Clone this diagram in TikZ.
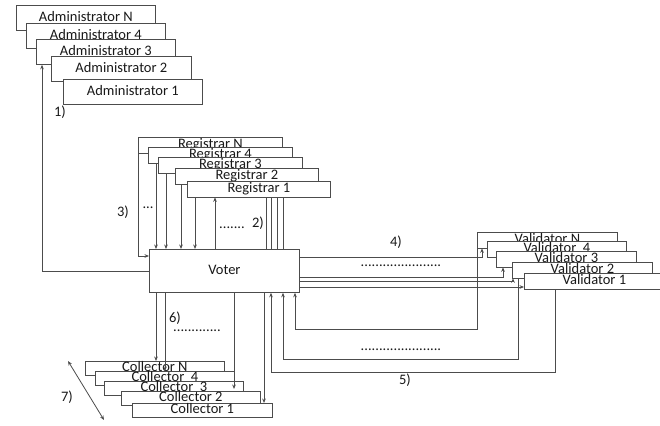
\documentclass[tikz,border=0pt]{standalone}
\usepackage{fontspec}
\setmainfont{Carlito}
\usetikzlibrary{arrows.meta,calc}
\begin{document}
\begin{tikzpicture}[x=1pt,y=-1pt,line width=0.8pt,
  boxstyle/.style={draw=black!70, fill=white, inner sep=0pt, anchor=north west,
    text=black!90, font=\fontsize{14.5}{16}\selectfont, text height=10pt, text depth=3pt},
  abox/.style={boxstyle, minimum width=139pt, minimum height=25pt},
  rbox/.style={boxstyle, minimum width=144pt, minimum height=15.5pt},
  vbox/.style={boxstyle, minimum width=140pt, minimum height=15.5pt},
  cbox/.style={boxstyle, minimum width=139pt, minimum height=13.5pt},
  tip/.tip={Stealth[length=4.5pt,width=3.6pt]},
  arr/.style={draw=black!70, -tip},
  ln/.style={draw=black!70},
  lbl/.style={font=\fontsize{14.5}{16}\selectfont, text=black!90, inner sep=0pt},
  dotrow/.style={lbl, anchor=base}]
\useasboundingbox (0,0) rectangle (660,425);
\fill[white] (0,0) rectangle (660,425);

% Administrators
\node[abox] (aN) at (16,5) {Administrator N};
\node[abox] (a4) at (26,23) {Administrator 4};
\node[abox] (a3) at (36,39) {Administrator 3};
\node[abox, minimum width=140pt] (a2) at (51,56) {Administrator 2};
\node[abox] (a1) at (63,79) {Administrator 1};

% Registrars
\node[rbox] (rN) at (138,137) {Registrar N};
\node[rbox] (r4) at (148,147) {Registrar 4};
\node[rbox] (r3) at (158,157) {Registrar 3};
\node[rbox, minimum width=143pt] (r2) at (175,168) {Registrar 2};
\node[rbox, minimum width=143pt] (r1) at (187,181) {Registrar 1};

% Voter
\node[boxstyle, minimum width=150pt, minimum height=43pt] (voter) at (149,249) {Voter};

% Validators
\node[vbox] (vN) at (477,232) {Validator N};
\node[vbox, minimum width=139pt] (v4) at (487,241) {Validator~~4};
\node[vbox] (v3) at (496,251) {Validator 3};
\node[vbox] (v2) at (512,262) {Validator 2};
\node[vbox] (v1) at (524,273) {Validator 1};

% Collectors
\node[cbox] (cN) at (85,361) {Collector N};
\node[cbox] (c4) at (95,371) {Collector~~4};
\node[cbox] (c3) at (104,381) {Collector~~3};
\node[cbox] (c2) at (121,391) {Collector 2};
\node[cbox, minimum width=140pt] (c1) at (132,403) {Collector 1};

% 1)
\draw[arr] (voter.west) -| ($(a3.south west)+(6,0)$);
\node[lbl] (l1) at (60,112) {1)};

% 3)
\draw[arr] (rN.south west) |- ($(voter.north west)+(0,7)$);
\draw[arr] (156,0 |- r4.south) -- (156,0 |- voter.north);
\draw[arr] (166,0 |- r3.south) -- (166,0 |- voter.north);
\draw[arr] (181,0 |- r2.south) -- (181,0 |- voter.north);
\draw[arr] (195,0 |- r1.south) -- (195,0 |- voter.north);
\node[lbl] (l3) at (123,212) {3)};
\node[dotrow] (d3) at (148,208) {...};

% 2)
\draw[arr] (215,0 |- voter.north) -- (215,0 |- r1.south);
\foreach \xx in {266,271,277,283}
  \draw[ln] (\xx,0 |- r1.south) -- (\xx,0 |- voter.north);
\node[dotrow] (d2) at (232,228) {.......};
\node[lbl] (l2) at (258,223) {2)};

% 4)
\draw[arr] (voter.east |- 0,257) -| (482,0 |- vN.south);
\draw[arr] (voter.east |- 0,277) -| (503,0 |- v3.south);
\draw[arr] (voter.east |- 0,281.5) -| (513,0 |- v2.south);
\draw[arr] (voter.east |- 0,287) -- (v1.west |- 0,287);
\node[lbl] (l4) at (396,242) {4)};
\node[dotrow] (d4) at (401,266) {......................};

% 5)
\draw[arr] (vN.south west) -- (vN.south west |- 0,329) -| (295,0 |- voter.south);
\draw[arr] (518,0 |- v2.south) -- (518,359) -| (283,0 |- voter.south);
\draw[arr] (555,0 |- v1.south) -- (555,372) -| (271,0 |- voter.south);
\node[dotrow] (d5) at (401,350) {......................};
\node[lbl] (l5) at (405,380) {5)};

% 6)
\draw[arr] (156,0 |- voter.south) -- (156,0 |- cN.north);
\draw[arr] (165,0 |- voter.south) -- (165,0 |- c4.north);
\draw[arr] (234,0 |- voter.south) -- ($(234,0 |- c2.north)+(0,-2)$);
\draw[arr] (264,0 |- voter.south) -- (264,0 |- c1.north);
\node[lbl] (l6) at (175,318) {6)};
\node[dotrow] (d6) at (197,331) {.............};

% 7)
\coordinate (s7a) at (68,361);
\coordinate (s7b) at (104,420);
\draw[ln, tip-tip] (s7a) -- (s7b);
\node[lbl] (l7) at (67,397) {7)};
\end{tikzpicture}
\end{document}
